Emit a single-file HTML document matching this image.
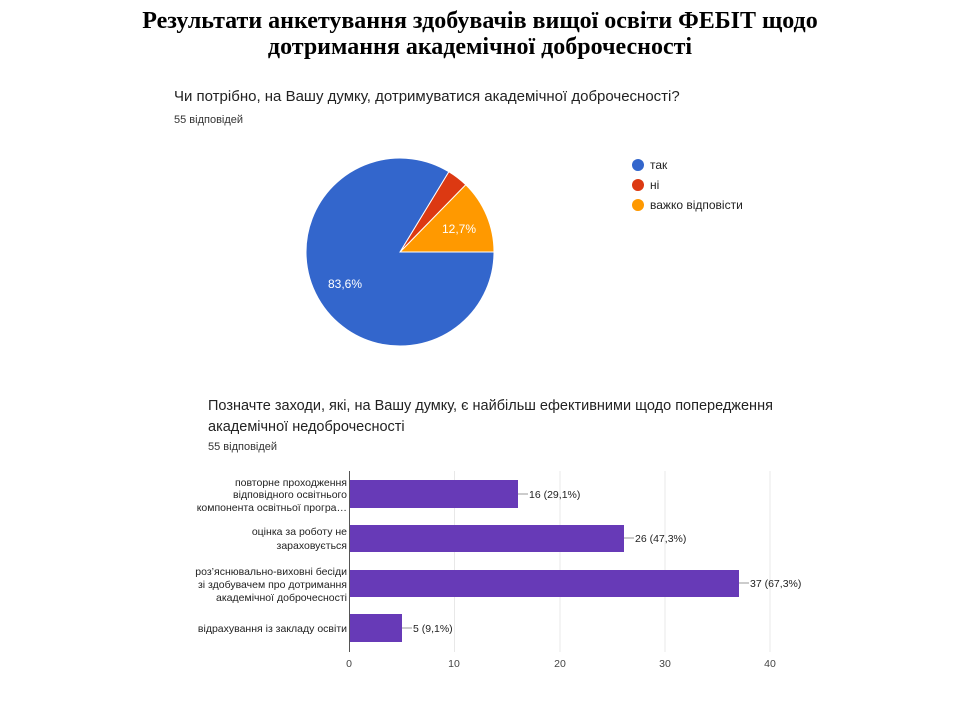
<!DOCTYPE html>
<html><head><meta charset="utf-8"><style>
body{margin:0;width:960px;height:720px;background:#fff;overflow:hidden;position:relative}
.t{position:absolute;font-family:"Liberation Serif",serif;font-weight:bold;font-size:24px;text-align:center;width:960px;left:0;line-height:26px}
</style></head><body>
<div class="t" style="top:8px">Результати анкетування здобувачів вищої освіти ФЕБІТ щодо<br>дотримання академічної доброчесності</div>
<svg width="960" height="720" style="position:absolute;left:0;top:0" font-family="Liberation Sans, sans-serif">
<text x="174" y="101" font-size="15" fill="#222">Чи потрібно, на Вашу думку, дотримуватися академічної доброчесності?</text>
<text x="174" y="123" font-size="11" fill="#333">55 відповідей</text>
<g stroke="#fff" stroke-width="1">
<path d="M400,252 L494,252 A94,94 0 0,0 465.7,184.7 Z" fill="#ff9900"/>
<path d="M400,252 L465.7,184.7 A94,94 0 0,0 448.8,171.7 Z" fill="#dc3912"/>
<path d="M400,252 L448.8,171.7 A94,94 0 1,0 494,252 Z" fill="#3366cc"/>
</g>
<text x="442" y="233" font-size="12" fill="#fff">12,7%</text>
<text x="328" y="288" font-size="12" fill="#fff">83,6%</text>
<circle cx="638" cy="165" r="6" fill="#3366cc"/><text x="650" y="169" font-size="12" fill="#222">так</text>
<circle cx="638" cy="185" r="6" fill="#dc3912"/><text x="650" y="189" font-size="12" fill="#222">ні</text>
<circle cx="638" cy="205" r="6" fill="#ff9900"/><text x="650" y="209" font-size="12" fill="#222">важко відповісти</text>

<text x="208" y="410" font-size="14.5" fill="#222">Позначте заходи, які, на Вашу думку, є найбільш ефективними щодо попередження</text>
<text x="208" y="431" font-size="14.5" fill="#222">академічної недоброчесності</text>
<text x="208" y="450" font-size="11" fill="#333">55 відповідей</text>
<g stroke="#e8e8e8" stroke-width="1">
<line x1="454.5" y1="471" x2="454.5" y2="652"/><line x1="560" y1="471" x2="560" y2="652"/>
<line x1="665" y1="471" x2="665" y2="652"/><line x1="770" y1="471" x2="770" y2="652"/>
</g>
<line x1="349.5" y1="471" x2="349.5" y2="652" stroke="#555"/>
<g fill="#673ab7">
<rect x="350" y="480" width="168" height="28"/>
<rect x="350" y="525" width="274" height="27"/>
<rect x="350" y="570" width="389" height="27"/>
<rect x="350" y="614" width="52" height="28"/>
</g>
<g stroke="#999"><line x1="518" y1="494" x2="528" y2="494"/><line x1="624" y1="538" x2="634" y2="538"/><line x1="739" y1="583" x2="749" y2="583"/><line x1="402" y1="628" x2="412" y2="628"/></g>
<g font-size="10.5" fill="#222">
<text x="529" y="498">16 (29,1%)</text><text x="635" y="542">26 (47,3%)</text><text x="750" y="587">37 (67,3%)</text><text x="413" y="632">5 (9,1%)</text>
</g>
<g font-size="10.5" fill="#222" text-anchor="end">
<text x="347" y="486">повторне проходження</text><text x="347" y="498">відповідного освітнього</text><text x="347" y="511">компонента освітньої програ…</text>
<text x="347" y="535">оцінка за роботу не</text><text x="347" y="549">зараховується</text>
<text x="347" y="575">роз’яснювально-виховні бесіди</text><text x="347" y="588">зі здобувачем про дотримання</text><text x="347" y="601">академічної доброчесності</text>
<text x="347" y="632">відрахування із закладу освіти</text>
</g>
<g font-size="10.5" fill="#444" text-anchor="middle">
<text x="349" y="667">0</text><text x="454" y="667">10</text><text x="560" y="667">20</text><text x="665" y="667">30</text><text x="770" y="667">40</text>
</g>
</svg>
</body></html>
